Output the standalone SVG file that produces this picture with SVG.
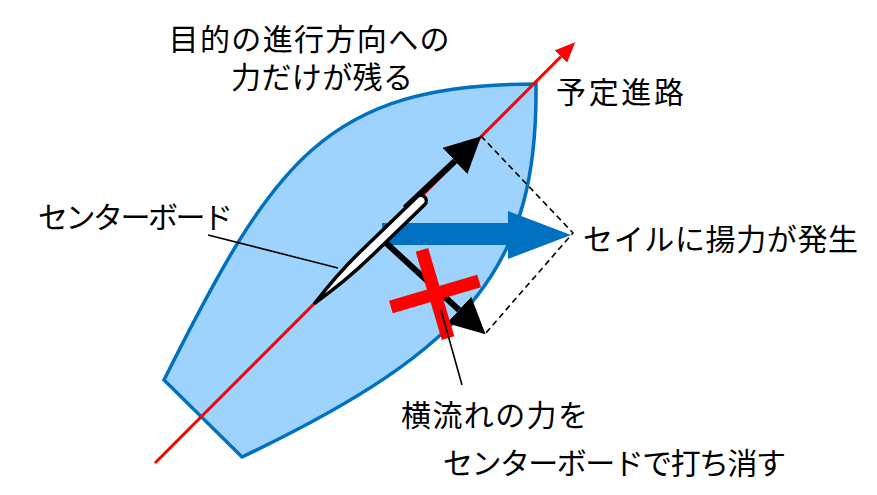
<svg xmlns="http://www.w3.org/2000/svg" width="877" height="495" viewBox="0 0 877 495">
<style>
  .lbl { font-family: "Noto Sans CJK JP", "Noto Sans", "Liberation Sans", sans-serif; font-size: 30px; fill: #000; }
  .hull { fill: #9DD3FD; stroke: #0070C0; stroke-width: 3.5; stroke-linejoin: miter; }
  .course { stroke: #FF0000; stroke-width: 3; fill: none; }
  .force { stroke: #000; stroke-width: 6; fill: none; }
  .dash { stroke: #000; stroke-width: 1.6; stroke-dasharray: 6 4; fill: none; }
  .leader { stroke: #000; stroke-width: 1.6; fill: none; }
  .lift { fill: #0070C0; }
  .cross { fill: #FF0000; }
  .board { fill: #FFFFFF; stroke: #000; stroke-width: 3.5; stroke-linejoin: round; }
</style>
<defs>
  <marker id="redHead" viewBox="0 0 6.7 5.8" markerWidth="6.7" markerHeight="5.8" refX="0" refY="2.9" orient="auto" markerUnits="strokeWidth">
    <path d="M0,0 L6.7,2.9 L0,5.8 Z" fill="#FF0000"/>
  </marker>
  <marker id="blackHead" viewBox="0 0 6 6" markerWidth="6" markerHeight="6" refX="0" refY="3" orient="auto" markerUnits="strokeWidth">
    <path d="M0,0 L6,3 L0,6 Z" fill="#000"/>
  </marker>
</defs>

<g id="hull">
  <path class="hull" d="M164,380 C274,160 326,84 536,84 C538,264 473,347 242,457 Z"/>
</g>

<g id="connectors">
  <line id="course-line" class="course" x1="155" y1="463" x2="561" y2="56.5" marker-end="url(#redHead)"/>
  <path id="parallelogram" class="dash" d="M481,136 L573,233 L485,334"/>
  <polygon id="lift-arrow" class="lift" points="382,223 508,223 508,211 571,235 508,259 508,245 382,245"/>
  <line id="forward-arrow" class="force" x1="405" y1="208" x2="455" y2="161" marker-end="url(#blackHead)"/>
  <line id="side-arrow" class="force" x1="385" y1="242" x2="459" y2="310" marker-end="url(#blackHead)"/>
</g>

<g id="centerboard">
  <path class="board" transform="translate(315,303) rotate(-44)" d="M0,0 C20,-3 45,-5.5 70,-5.5 L147,-5.5 A5.5,5.5 0 0 1 147,5.5 L70,5.5 C45,5.5 20,3 0,0 Z"/>
</g>

<g id="cancel-mark" transform="translate(435,294) rotate(-16.5)">
  <rect class="cross" x="-46" y="-6.5" width="92" height="13"/>
  <rect class="cross" x="-6.5" y="-46" width="13" height="92"/>
</g>

<g id="leaders">
  <line class="leader" x1="208" y1="235" x2="338" y2="268"/>
  <line class="leader" x1="441" y1="310" x2="462" y2="385"/>
</g>

<g id="label-goal">
  <text class="lbl"><tspan x="168.5" y="50" textLength="281" lengthAdjust="spacing">目的の進行方向への</tspan><tspan x="231" y="88" textLength="182" lengthAdjust="spacing">力だけが残る</tspan></text>
</g>
<g id="label-course">
  <text class="lbl" x="556" y="103" textLength="128" lengthAdjust="spacing">予定進路</text>
</g>
<g id="label-centerboard">
  <text class="lbl" x="38" y="228" textLength="195" lengthAdjust="spacing">センターボード</text>
</g>
<g id="label-lift">
  <text class="lbl" x="583" y="250" textLength="275" lengthAdjust="spacing">セイルに揚力が発生</text>
</g>
<g id="label-cancel">
  <text class="lbl"><tspan x="401" y="426" textLength="187" lengthAdjust="spacing">横流れの力を</tspan><tspan x="443" y="474" textLength="343" lengthAdjust="spacing">センターボードで打ち消す</tspan></text>
</g>
</svg>
